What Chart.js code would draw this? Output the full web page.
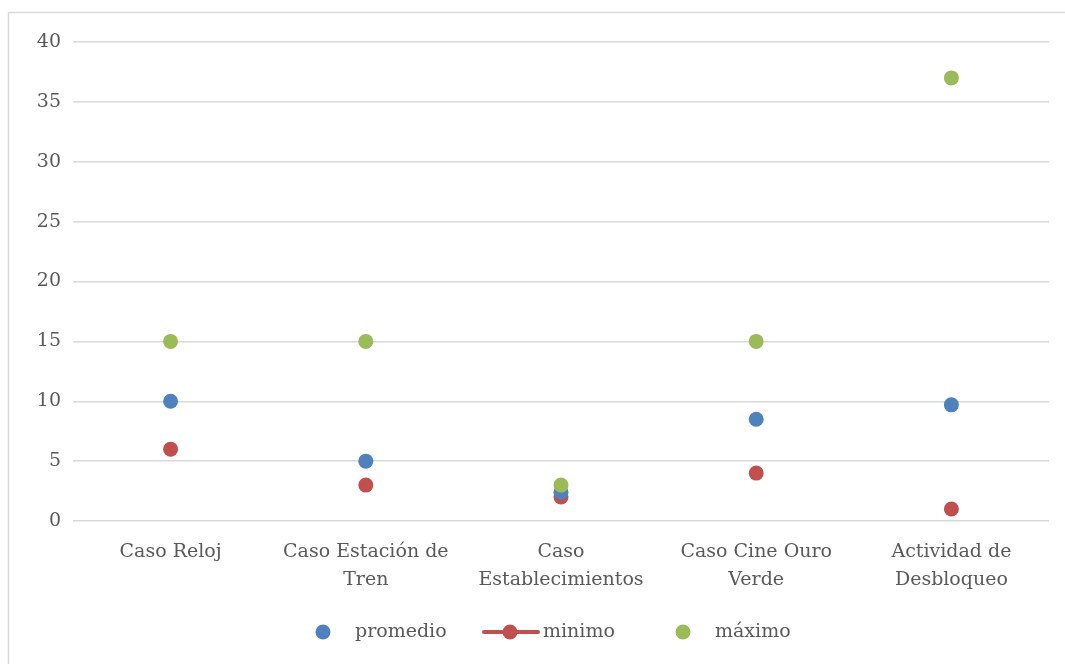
<!DOCTYPE html>
<html>
<head>
<meta charset="utf-8">
<script src="https://cdn.jsdelivr.net/npm/chart.js@4/dist/chart.umd.min.js"></script>
<style>
  html, body { margin: 0; padding: 0; background: #fff; overflow: hidden; }
  #wrap { width: 1065px; height: 664px; }
</style>
</head>
<body>
<div id="wrap"><canvas id="tiemposChart" width="1065" height="664"></canvas></div>
<script>
// categorias del eje x (cada una en dos lineas)
const categorias = [
  ["Caso Reloj"],
  ["Caso Estación de", "Tren"],
  ["Caso", "Establecimientos"],
  ["Caso Cine Ouro", "Verde"],
  ["Actividad de", "Desbloqueo"]
];
const promedio = [10, 5, 2.4, 8.5, 9.7];
const minimo = [6, 3, 2, 4, 1];
const maximo = [15, 15, 3, 15, 37];
const yTicks = [0, 5, 10, 15, 20, 25, 30, 35, 40];

const fuente = "'DejaVu Serif', serif";
const gris = "#595959";
const colores = { promedio: "#4f81bd", minimo: "#c0504d", maximo: "#9bbb59" };

// marco gris (solo se ven los bordes izquierdo y superior)
const marco = {
  id: "marco",
  beforeDraw(chart) {
    const ctx = chart.ctx;
    ctx.save();
    ctx.strokeStyle = "#d9d9d9";
    ctx.lineWidth = 1.5;
    ctx.beginPath();
    ctx.moveTo(8.5, chart.height);
    ctx.lineTo(8.5, 12.5);
    ctx.lineTo(chart.width, 12.5);
    ctx.stroke();
    ctx.restore();
  }
};

// leyenda dibujada a mano: minimo lleva linea con punto
const leyenda = {
  id: "leyenda",
  afterDraw(chart) {
    const ctx = chart.ctx;
    const y = 632;
    ctx.save();
    ctx.font = "19px " + fuente;
    ctx.textBaseline = "middle";
    const xs = { "promedio": 323, "minimo": 510, "máximo": 683 };
    const textoX = { "promedio": 355, "minimo": 543, "máximo": 715 };
    chart.data.datasets.forEach(ds => {
      const cx = xs[ds.label];
      if (ds.label === "minimo") {
        ctx.strokeStyle = ds.backgroundColor;
        ctx.lineWidth = 4;
        ctx.lineCap = "round";
        ctx.beginPath();
        ctx.moveTo(cx - 26, y);
        ctx.lineTo(cx + 28, y);
        ctx.stroke();
      }
      ctx.fillStyle = ds.backgroundColor;
      ctx.beginPath();
      ctx.arc(cx, y, 7.5, 0, Math.PI * 2);
      ctx.fill();
      ctx.fillStyle = gris;
      ctx.fillText(ds.label, textoX[ds.label], y);
    });
    ctx.restore();
  }
};

const puntos = (label, data, color, order) => ({
  label: label,
  data: data,
  order: order,
  showLine: false,
  backgroundColor: color,
  borderColor: color,
  borderWidth: 0,
  pointRadius: 7.5,
  pointHoverRadius: 7.5
});

new Chart(document.getElementById("tiemposChart").getContext("2d"), {
  type: "line",
  data: {
    labels: categorias,
    datasets: [
      puntos("promedio", promedio, colores.promedio, 2),
      puntos("minimo", minimo, colores.minimo, 3),
      puntos("máximo", maximo, colores.maximo, 1)
    ]
  },
  options: {
    responsive: false,
    animation: false,
    events: [],
    layout: { padding: { top: 42, right: 16, left: 3, bottom: 0 } },
    plugins: {
      legend: { display: false },
      tooltip: { enabled: false }
    },
    scales: {
      x: {
        offset: true,
        grid: { display: false, drawTicks: false },
        border: { display: false },
        ticks: {
          color: gris,
          font: { family: fuente, size: 19, lineHeight: 1.47 },
          padding: 17,
          maxRotation: 0,
          autoSkip: false
        },
        afterFit(scale) { scale.height = 143; }
      },
      y: {
        min: 0,
        max: 40,
        afterBuildTicks(scale) { scale.ticks = yTicks.map(v => ({ value: v })); },
        grid: { color: "#d9d9d9", lineWidth: 1.5, drawTicks: false },
        border: { display: false },
        ticks: {
          color: gris,
          font: { family: fuente, size: 19 },
          padding: 12
        },
        afterFit(scale) { scale.width = 70; }
      }
    }
  },
  plugins: [marco, leyenda]
});
</script>
</body>
</html>
